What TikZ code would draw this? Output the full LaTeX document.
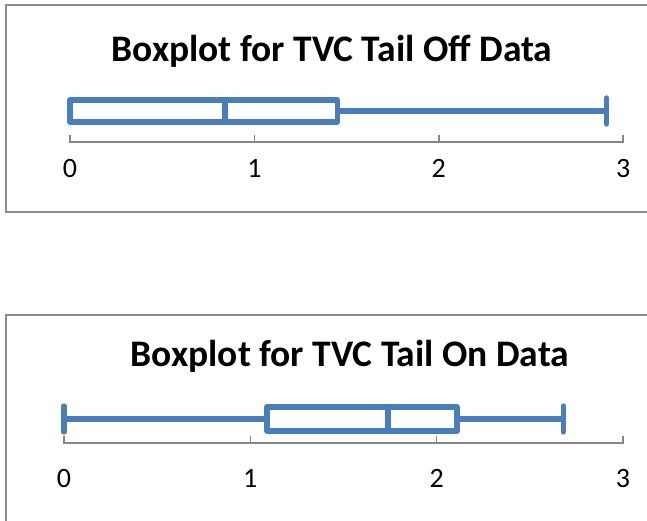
\documentclass[tikz,border=0pt]{standalone}
\usepackage{fontspec}
\setmainfont{Carlito}
\definecolor{boxblue}{HTML}{4A7EBB}
\definecolor{axisgray}{HTML}{868686}
\definecolor{framegray}{HTML}{8C8C8C}
\tikzset{
  chartframe/.style={draw=framegray, line width=1.3pt},
  axisline/.style={draw=axisgray, line width=1.6pt},
  boxline/.style={draw=boxblue, line width=5.4pt, line join=round},
  capline/.style={draw=boxblue, line width=5.4pt, line cap=round},
  charttitle/.style={font=\bfseries\fontsize{37.5}{42}\selectfont, inner sep=0pt, anchor=base},
  ticklabel/.style={font=\fontsize{28}{32}\selectfont, inner sep=0pt, anchor=base}
}
\begin{document}
\begin{tikzpicture}[x=1pt,y=-1pt]
\useasboundingbox (0,0) rectangle (647,520);
\fill[white] (0,0) rectangle (647,520);

% panel frames (open on the right)
\draw[chartframe] (650,5) -- (6,5) -- (6,212) -- (650,212);
\draw[chartframe] (650,315) -- (6,315) -- (6,525);

% ---- Tail Off ----
\node[charttitle] (titleOff) at (332,61) {Boxplot for TVC Tail Off Data};
\begin{scope}[shift={(70,0)}, x=184.4pt]
  \draw[axisline] (0,142) -- (3,142);
  \foreach \i in {0,...,3} {
    \draw[axisline] (\i,143) -- (\i,134.5);
    \node[ticklabel] (offTick\i) at (\i,177) {\i};
  }
  \draw[boxline] (1.45,111) -- (2.91,111);
  \draw[capline] (2.91,98) -- (2.91,124);
  \draw[boxline] (0,100) rectangle (1.45,122);
  \draw[boxline] (0.84,100) -- (0.84,122);
\end{scope}

% ---- Tail On ----
\node[charttitle] (titleOn) at (350,366) {Boxplot for TVC Tail On Data};
\begin{scope}[shift={(64,0)}, x=186.3pt]
  \draw[axisline] (0,443) -- (3,443);
  \foreach \i in {0,...,3} {
    \draw[axisline] (\i,444) -- (\i,435.5);
    \node[ticklabel] (onTick\i) at (\i,487) {\i};
  }
  \draw[boxline] (0,419) -- (1.09,419);
  \draw[boxline] (2.11,419) -- (2.68,419);
  \draw[capline] (0,406) -- (0,432);
  \draw[capline] (2.68,406) -- (2.68,432);
  \draw[boxline] (1.09,407) rectangle (2.11,431);
  \draw[boxline] (1.74,407) -- (1.74,431);
\end{scope}
\end{tikzpicture}
\end{document}
